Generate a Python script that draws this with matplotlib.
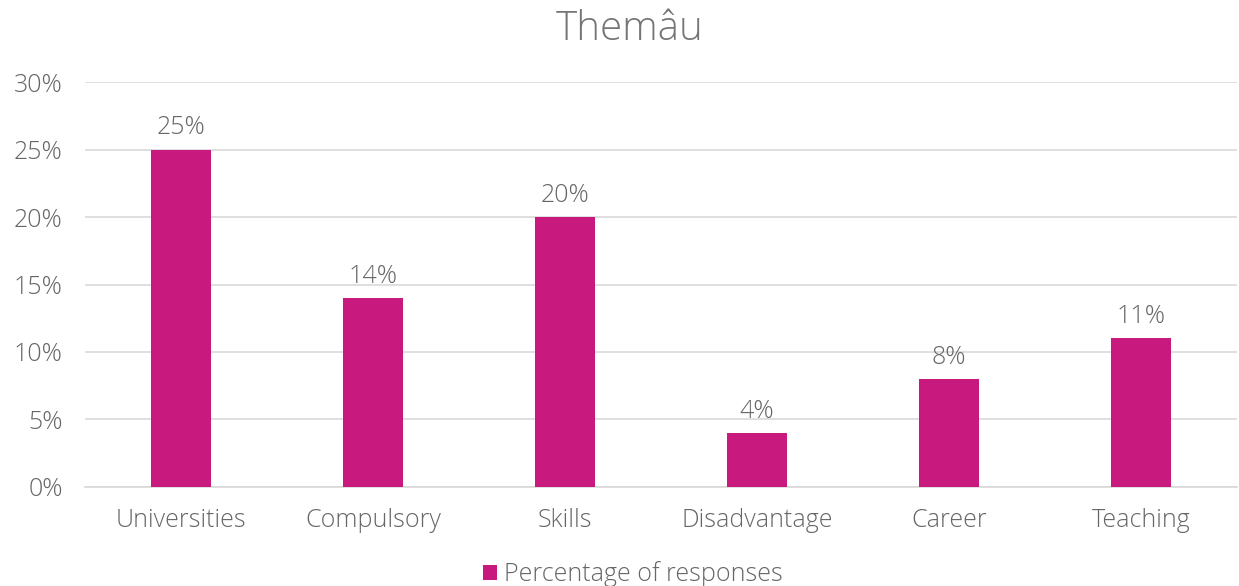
import matplotlib
matplotlib.use("Agg")
import matplotlib.pyplot as plt
from matplotlib.ticker import FuncFormatter

categories = ["Universities", "Compulsory", "Skills", "Disadvantage", "Career", "Teaching"]
values = [25, 14, 20, 4, 8, 11]
series_name = "Percentage of responses"
title = "Themâu"

plt.rcParams['font.family'] = ['Open Sans', 'DejaVu Sans']
plt.rcParams['font.weight'] = 'light'
bar_color = "#C8197E"
text_color = "#666666"

fig = plt.figure(figsize=(12.39, 5.86), dpi=100)
ax = fig.add_axes([0.0686, 0.169, 0.930, 0.691])
x = range(len(categories))
bars = ax.bar(x, values, width=0.31, color=bar_color, zorder=3, label=series_name)
for xi, v in zip(x, values):
    ax.text(xi, v + 0.7, f"{v}%", ha="center", va="bottom", fontsize=18, color=text_color)

ax.set_xlim(-0.5, len(categories) - 0.5)
ax.set_ylim(0, 30)
ax.set_yticks(range(0, 31, 5))
ax.yaxis.set_major_formatter(FuncFormatter(lambda v, p: f"{int(v)}%"))
ax.set_xticks(list(x))
ax.set_xticklabels(categories)
ax.tick_params(axis="both", length=0, labelsize=18, labelcolor=text_color)
ax.tick_params(axis="x", pad=15)
ax.tick_params(axis="y", pad=16)
ax.grid(axis="y", color="#D9D9D9", linewidth=1.2, zorder=0)
for s in ax.spines.values():
    s.set_visible(False)
ax.spines["bottom"].set_visible(True)
ax.spines["bottom"].set_color("#D9D9D9")
ax.spines["bottom"].set_linewidth(1.2)

fig.text(0.508, 0.950, title, ha="center", va="center", fontsize=29, color="#757575")
fig.legend(handles=[bars], labels=[series_name], loc="center", bbox_to_anchor=(0.511, 0.020),
           frameon=False, fontsize=18, labelcolor=text_color, handlelength=0.55, handleheight=0.55,
           handletextpad=0.3, borderpad=0)
fig.savefig("out.png", dpi=100)
